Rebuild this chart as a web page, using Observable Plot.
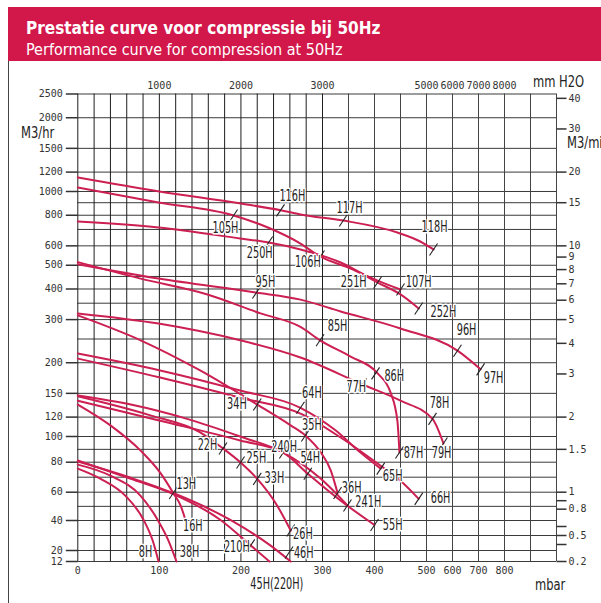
<!DOCTYPE html>
<html><head><meta charset="utf-8">
<script src="https://cdn.jsdelivr.net/npm/d3@7"></script>
<script src="https://cdn.jsdelivr.net/npm/@observablehq/plot@0.6"></script>
<style>
html,body{margin:0;padding:0;background:#fff;}
#wrap{position:relative;width:601px;height:603px;overflow:hidden;background:#fff;}
.nar{font-family:"Liberation Sans Narrow","DejaVu Sans Condensed","DejaVu Sans",sans-serif;font-stretch:condensed;}
#head{position:absolute;left:8px;top:7px;width:593px;height:54px;background:#d2174a;color:#fff;z-index:2;}
#t1{position:absolute;left:18px;top:13px;font-weight:bold;font-size:17px;line-height:17px;white-space:nowrap;}
#t2{position:absolute;left:18px;top:35px;font-size:16px;line-height:16px;white-space:nowrap;}
#frame{position:absolute;left:8px;top:61px;width:1px;height:542px;background:#444;z-index:2;}
.ttl{position:absolute;font-size:16px;line-height:16px;color:#222;white-space:nowrap;z-index:2;transform:scaleX(0.8);transform-origin:0 50%;}
#chart{position:absolute;left:0;top:0;}
</style></head>
<body><div id="wrap">
<div id="head" class="nar"><div id="t1">Prestatie curve voor compressie bij 50Hz</div><div id="t2">Performance curve for compression at 50Hz</div></div>
<div id="frame"></div>
<div class="ttl nar" style="left:21px;top:125px;">M3/hr</div>
<div class="ttl nar" style="left:533px;top:74px;">mm H2O</div>
<div class="ttl nar" style="left:567px;top:135px;">M3/min</div>
<div class="ttl nar" style="left:535px;top:577px;">mbar</div>
<div id="chart"></div>
</div>
<script>
// ---- axis ticks ----
const xGrid = [0,20,40,60,80,100,120,140,160,180,200,220,240,260,280,300,350,400,450,500,600,700,800,900,1000];
const yGrid = [12,20,30,40,50,60,70,80,90,100,120,150,200,250,300,350,400,450,500,600,700,800,900,1000,1200,1500,2000,2500];
const leftTicks = [2500,2000,1500,1200,1000,800,600,500,400,300,200,150,120,100,80,60,40,20,12];
const bottomTicks = [0,100,200,300,400,500,600,700,800];
const topTicks = [1000,2000,3000,5000,6000,7000,8000];          // mm H2O
const rightTicks = [40,30,20,15,10,9,8,7,6,5,4,3,2,1.5,1,0.8,0.5,0.2]; // M3/min
const rightMinor = [0.9,0.6,0.4];

// ---- curves: [mbar, M3/hr] ----
const c116 = [[0,1140],[100,1000],[200,893],[250,837],[273,806],[340,761],[444,680],[488,625],[527,580]];
const c105 = [[0,1038],[99,902],[191,798],[236,706],[273,613],[297,543],[354,485],[406,433],[450,398]];
const c250 = [[0,754],[99,713],[199,643],[234,619],[273,580],[335,513],[406,425],[450,380],[485,333]];
const c95  = [[0,505],[99,441],[218,387],[273,362],[335,324],[450,276],[619,224],[708,188]];
const c85  = [[0,515],[77,441],[159,380],[224,318],[273,280],[297,247],[354,212],[406,181],[431,151],[444,116],[448,87.5]];
const c77  = [[0,318],[99,289],[199,247],[273,210],[377,163],[450,140],[523,118],[565,94.6]];
const c34  = [[0,312],[77,247],[150,186],[220,135],[261,111],[279,101],[298,87.5],[316,74.4],[329,59.4]];
const c64  = [[0,218],[101,186],[199,154],[273,131],[325,106],[373,87.5],[412,75.7]];
const c66  = [[0,208],[101,174],[199,144],[273,124],[335,99.2],[406,79.1],[450,67.6],[485,55.3]];
const c240 = [[0,147],[65,135],[134,118],[199,100],[252,87.5],[298,68.9],[348,50.6]];
const c22  = [[0,146],[89,122],[150,104],[178,90.7],[199.5,79.8],[220,68.9],[243,51.9],[261,33.3]];
const c54  = [[0,140],[101,116],[199,96.9],[252,87.5],[282,72.3],[335,54],[400,37]];
const c13  = [[0,135],[40,111],[77,89],[101,73],[117,59.4],[126,50.6],[132,40.4]];
const c8   = [[0,75.7],[28,68.9],[58.5,57.4],[80.7,40.4],[91.7,26.8],[99,12]];
const c38  = [[0,78.4],[40,71],[77,57.4],[98,40.4],[111,26.8],[121,12]];
const c45  = [[0,81.3],[65,68.9],[117,58.7],[175,40.4],[212,23.4],[235,12]];
const c46  = [[0,80.5],[65,69.6],[117,59.4],[187,40.4],[236,23.4],[261,12]];

// ---- model marks on curves: [mbar, M3/hr] ----
const marks = [[248.5,837],[340,761],[527,580],[191,798],[297.5,543],[450,398],[234,619],[406,425],[485,333],
  [219,387],[619,224],[708,188],[297,247],[402,181],[448,87.5],[377,163],[523,118],[565,94.6],
  [220,135],[279,101],[329,59.4],[273,131],[412,75.7],[485,55.3],[117,59.4],[178,90.7],[199.5,79.8],
  [220,68.9],[261,33.3],[252,87.5],[282,72.3],[348,50.6],[400,37],[212,23.4],[259,18.5]];

// ---- model labels: [text, mbar, M3/hr] ----
const labels = [["116H",263,954],["117H",352,852],["118H",531,713],["105H",181,706],["250H",223,558],
  ["106H",282,513],["251H",360,425],["107H",485,425],["252H",565,321],["95H",230,425],["85H",329,281],
  ["96H",654,271],["97H",758,173],["86H",438,176],["77H",365,159],["78H",550,137],["64H",287,150],
  ["35H",287,111],["34H",195,135],["22H",159,93],["240H",253,91.4],["25H",219,82.9],["54H",285,82.9],
  ["33H",241,69.6],["13H",133,65.5],["16H",141,36],["8H",83,18.5],["38H",137,18.5],["210H",195,22],
  ["26H",276,31],["46H",277,18],["87H",475,86.8],["79H",558,86.8],["65H",435,71],["36H",356,62.8],
  ["241H",388,52.6],["66H",554,56],["55H",435,36.7],["45H(220H)",244,-4.7]];

// flow axis: log above 100 M3/hr, linear below
const T = v => v <= 100 ? v : 100 + 100 * Math.log10(v / 100);

const curves = {c116,c105,c250,c95,c85,c77,c34,c64,c66,c240,c22,c54,c13,c8,c38,c45,c46};
const rows = Object.entries(curves).flatMap(([id, pts]) => pts.map(([m, q]) => ({id, m, q})));

const slash = {draw(ctx){ ctx.moveTo(-4, 6); ctx.lineTo(4, -6); }};
const tickL = {draw(ctx){ ctx.moveTo(-12, 0); ctx.lineTo(0, 0); }};
const tickR = {draw(ctx){ ctx.moveTo(0, 0); ctx.lineTo(10, 0); }};

const RED = "#cc1f52";
const NARROW = '"Liberation Sans Narrow","DejaVu Sans Condensed","DejaVu Sans",sans-serif';
const MONO = '"DejaVu Sans Mono",monospace';

const chart = Plot.plot({
  width: 601, height: 603,
  style: {background: "transparent"},
  x: {type: "linear", domain: [0, 300, 500, 1000], range: [77.3, 322, 426, 556], axis: null},
  y: {type: "linear", domain: [12, 20, 40, 60, 80, 100, T(2500)], range: [561, 550, 520, 491.7, 461.7, 436, 93.5], axis: null},
  marks: [
    Plot.ruleY(yGrid, {y: d => T(d), x1: 0, x2: 1000, stroke: "#3a3a3a", strokeWidth: 1}),
    Plot.ruleX(xGrid, {x: d => d, y1: T(12), y2: T(2500), stroke: d => d > 300 ? "#444" : "#1e1e1e", strokeWidth: 1}),
    Plot.dot(leftTicks, {x: () => 0, y: d => T(d), symbol: tickL, fill: "none", stroke: "#333"}),
    Plot.dot(rightTicks.concat(rightMinor), {x: () => 1000, y: d => T(d * 60), symbol: tickR, fill: "none", stroke: "#333"}),
    Plot.text(leftTicks, {x: () => 0, y: d => T(d), text: d => String(d), dx: -15, textAnchor: "end", fontFamily: MONO, fontSize: 10, fill: "#333"}),
    Plot.text(rightTicks, {x: () => 1000, y: d => T(d * 60), text: d => String(d), dx: 12, textAnchor: "start", fontFamily: MONO, fontSize: 10, fill: "#333"}),
    Plot.text(bottomTicks, {x: d => d, y: () => T(12), text: d => String(d), dy: 9, fontFamily: MONO, fontSize: 10, fill: "#333"}),
    Plot.text(topTicks, {x: d => d / 10, y: () => T(2500), text: d => String(d), dy: -8, fontFamily: MONO, fontSize: 10, fill: "#333"}),
    Plot.line(rows, {x: "m", y: d => T(d.q), z: "id", stroke: RED, strokeWidth: 2, curve: "monotone-x"}),
    Plot.dot(marks, {x: d => d[0], y: d => T(d[1]), symbol: slash, fill: "none", stroke: "#222", strokeWidth: 1.1}),
    Plot.text(labels, {x: d => d[1], y: d => T(d[2]), text: d => d[0], fontFamily: NARROW, fontSize: 15, fill: "white", stroke: "white", strokeWidth: 3}),
    Plot.text(labels, {x: d => d[1], y: d => T(d[2]), text: d => d[0], fontFamily: NARROW, fontSize: 15, fill: "#222"})
  ]
});
document.getElementById("chart").appendChild(chart);

// condense the model labels (the reference uses a condensed face)
chart.querySelectorAll("g[aria-label='text']").forEach(g => {
  if ((g.getAttribute("font-family") || "").indexOf("Narrow") < 0) return;
  g.querySelectorAll("text").forEach(t => {
    const w = t.getComputedTextLength();
    if (w > 0) { t.setAttribute("textLength", (w * 0.72).toFixed(1)); t.setAttribute("lengthAdjust", "spacingAndGlyphs"); }
  });
});
</script>
</body></html>
